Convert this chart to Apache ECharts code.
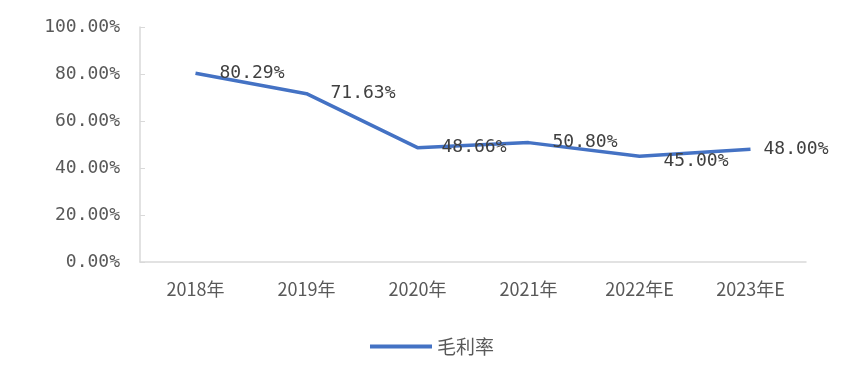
<!DOCTYPE html>
<html><head><meta charset="utf-8">
<script src="https://cdn.jsdelivr.net/npm/echarts@6/dist/echarts.min.js"></script>
<style>html,body{margin:0;padding:0;background:#fff}#c{width:864px;height:373px}</style>
</head><body><div id="c"></div>
<script>
const categories = ['2018年','2019年','2020年','2021年','2022年E','2023年E'];
const grossMargin = [80.29, 71.63, 48.66, 50.80, 45.00, 48.00];
const seriesName = '毛利率';
const yTicks = [0, 20, 40, 60, 80, 100];

const seriesData = grossMargin.map((v, i) =>
  i === grossMargin.length - 1 ? {value: v, label: {distance: 13}} :
  i === 4 ? {value: v, label: {offset: [0, 5]}} : v);

const chart = echarts.init(document.getElementById('c'));
chart.setOption({
  animation: false,
  grid: {left: 140, right: 58, top: 27, bottom: 111},
  legend: {
    bottom: 12, left: 'center',
    itemWidth: 62, itemHeight: 4, itemGap: 8,
    icon: 'rect',
    textStyle: {fontFamily: 'Noto Sans CJK SC', fontSize: 19, color: '#595959'},
    data: [seriesName]
  },
  xAxis: {
    type: 'category', data: categories,
    axisLine: {lineStyle: {color: '#d9d9d9', width: 1.5}},
    axisTick: {show: false},
    axisLabel: {margin: 18, fontFamily: 'Noto Sans CJK SC', fontSize: 18, color: '#595959'}
  },
  yAxis: {
    type: 'value', min: yTicks[0], max: yTicks[yTicks.length-1], interval: 20,
    axisLine: {show: true, lineStyle: {color: '#d9d9d9', width: 1.5}},
    axisTick: {show: true, inside: true, length: 5, lineStyle: {color: '#d9d9d9'}},
    splitLine: {show: false},
    axisLabel: {margin: 20, fontFamily: 'DejaVu Sans Mono', fontSize: 18, color: '#595959',
      formatter: v => v.toFixed(2) + '%'}
  },
  series: [{
    name: seriesName, type: 'line', data: seriesData,
    symbol: 'circle', symbolSize: 0, showSymbol: true,
    lineStyle: {color: '#4472c4', width: 3.5},
    itemStyle: {color: '#4472c4'},
    label: {show: true, position: 'right', distance: 24,
      fontFamily: 'DejaVu Sans Mono', fontSize: 18, color: '#404040',
      formatter: p => p.value.toFixed(2) + '%'}
  }]
});
</script></body></html>
